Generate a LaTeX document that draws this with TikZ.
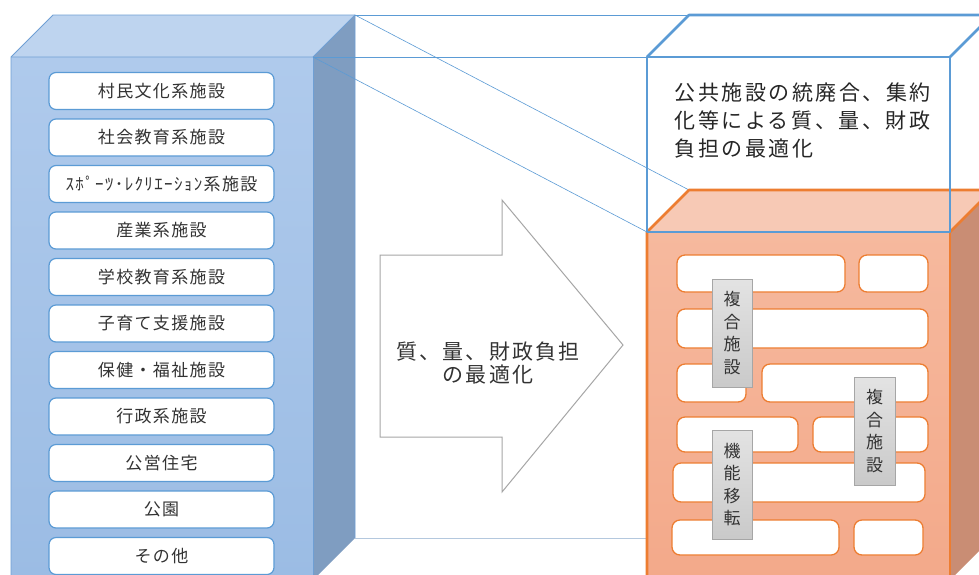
\documentclass[tikz,border=0pt]{standalone}
\usepackage{fontspec}
\setmainfont{Noto Sans CJK JP}
\newfontfamily\jpA{Noto Sans CJK JP}[LetterSpace=8]
\newfontfamily\jpB{Noto Sans CJK JP}[LetterSpace=10]
\newfontfamily\jpC{Noto Sans CJK JP}[LetterSpace=12]
\definecolor{cubeFrontT}{HTML}{AFCAEC}
\definecolor{cubeFrontB}{HTML}{9BBCE4}
\definecolor{cubeTop}{HTML}{BED4EF}
\definecolor{cubeSide}{HTML}{7F9DC1}
\definecolor{cubeEdge}{HTML}{6F9FD4}
\definecolor{linkBlue}{HTML}{5B9BD5}
\definecolor{linkPale}{HTML}{B4C8DE}
\definecolor{orFrontT}{HTML}{F6B99E}
\definecolor{orFrontB}{HTML}{F3A98A}
\definecolor{orTop}{HTML}{F7C9B5}
\definecolor{orSide}{HTML}{C98D74}
\definecolor{orEdge}{HTML}{ED7D31}
\definecolor{txt}{HTML}{333333}
\definecolor{arrowGray}{HTML}{A6A6A6}
\begin{document}
\begin{tikzpicture}[x=1pt,y=-1pt,
  lbox/.style={draw=linkBlue,line width=1.2pt,fill=white,rounded corners=7pt,
    minimum width=225pt,minimum height=37pt,inner sep=0pt,outer sep=0pt,
    text=txt,font=\jpA\fontsize{17}{20}\selectfont},
  obox/.style={draw=orEdge,line width=1.3pt,fill=white,rounded corners=8pt,
    inner sep=0pt,outer sep=0pt,anchor=north west},
  glabel/.style={draw=arrowGray,line width=0.8pt,top color=gray!22,bottom color=gray!42,
    inner sep=0pt,outer sep=0pt,anchor=north west,minimum width=40pt,minimum height=108pt,
    align=center,text=txt,font=\fontsize{17}{22.6}\selectfont},
  link/.style={draw=linkBlue,line width=0.6pt},
  wire/.style={draw=linkBlue,line width=2.6pt,line join=round},
  oedge/.style={draw=orEdge,line width=2.6pt,line join=round}
]
\useasboundingbox (0,0) rectangle (979,574);
\clip (0,0) rectangle (979,574);
\fill[white] (0,0) rectangle (979,574);

% ---------- left cube ----------
\coordinate (LFTL) at (11,57);
\coordinate (LFTR) at (313,57);
\coordinate (LBTL) at (53,15);
\coordinate (LBTR) at (355,15);
\coordinate (LBBR) at (355,538);
\coordinate (LFBR) at (313,580);
\coordinate (LFBL) at (11,580);
\shade[top color=cubeFrontT,bottom color=cubeFrontB] (LFTL) rectangle (LFBR);
\fill[cubeTop] (LFTL) -- (LBTL) -- (LBTR) -- (LFTR) -- cycle;
\fill[cubeSide] (LFTR) -- (LBTR) -- (LBBR) -- (LFBR) -- cycle;
\draw[cubeEdge,line width=0.8pt,line join=round] (LFBL) -- (LFTL) -- (LBTL) -- (LBTR) -- (LBBR);
\draw[cubeEdge,line width=0.8pt] (LFTL) -- (LFTR) -- (LBTR);
\draw[cubeEdge,line width=0.8pt] (LFTR) -- (LFBR);

% ---------- list boxes ----------
\node[lbox] (l1)  at (161.5,91)    {村民文化系施設};
\node[lbox] (l2)  at (161.5,137.5) {社会教育系施設};
\node[lbox] (l3)  at (161.5,184)   {ｽﾎﾟｰﾂ･ﾚｸﾘｴｰｼｮﾝ系施設};
\node[lbox] (l4)  at (161.5,230.5) {産業系施設};
\node[lbox] (l5)  at (161.5,277)   {学校教育系施設};
\node[lbox] (l6)  at (161.5,323.5) {子育て支援施設};
\node[lbox] (l7)  at (161.5,370)   {保健・福祉施設};
\node[lbox] (l8)  at (161.5,416.5) {行政系施設};
\node[lbox] (l9)  at (161.5,463)   {公営住宅};
\node[lbox] (l10) at (161.5,509.5) {公園};
\node[lbox] (l11) at (161.5,556)   {その他};

% ---------- right cube coordinates ----------
\coordinate (BFTL) at (647,57);
\coordinate (BFTR) at (950,57);
\coordinate (BBTL) at (689,15);
\coordinate (BBTR) at (992,15);
\coordinate (OFTL) at (647,232);
\coordinate (OFTR) at (950,232);
\coordinate (OBTL) at (689,190);
\coordinate (OBTR) at (992,190);
\coordinate (OBBR) at (992,538);
\coordinate (OFBR) at (950,580);
\coordinate (OFBL) at (647,580);
\coordinate (OBL)  at (647,538);

% ---------- links ----------
\draw[link] (LBTR) -- (BBTL);
\draw[link] (LFTR) -- (BFTL);
\draw[link] (LBTR) -- (OBTL);
\draw[link] (LFTR) -- (OFTL);
\draw[draw=linkPale,line width=1pt] (LBBR) -- (OBL);

% ---------- arrow ----------
\draw[arrowGray,fill=white,line width=1pt,line join=miter]
  (380,255) -- (502,255) -- (502,200) -- (623,345) -- (502,492) -- (502,437) -- (380,437) -- cycle;
\node[align=center,text=txt,font=\jpB\fontsize{21}{22.5}\selectfont] (arrowtext) at (488,363)
  {質、量、財政負担\\の最適化};

% ---------- orange cube ----------
\shade[top color=orFrontT,bottom color=orFrontB] (OFTL) rectangle (OFBR);
\fill[orTop] (OFTL) -- (OBTL) -- (OBTR) -- (OFTR) -- cycle;
\fill[orSide] (OFTR) -- (OBTR) -- (OBBR) -- (OFBR) -- cycle;
\draw[oedge] (OFBL) -- (OFTL) -- (OBTL) -- (OBTR);
\draw[oedge] (OFTR) -- (OBTR);
\draw[oedge] (OFTR) -- (OFBR);

\node[obox,minimum width=168pt,minimum height=37pt] (o1)  at (677,255) {};
\node[obox,minimum width=69pt, minimum height=37pt] (o2)  at (859,255) {};
\node[obox,minimum width=251pt,minimum height=39pt] (o3)  at (677,309) {};
\node[obox,minimum width=69pt, minimum height=38pt] (o4)  at (677,364) {};
\node[obox,minimum width=166pt,minimum height=38pt] (o5)  at (762,364) {};
\node[obox,minimum width=121pt,minimum height=35pt] (o6)  at (677,417) {};
\node[obox,minimum width=115pt,minimum height=35pt] (o7)  at (813,417) {};
\node[obox,minimum width=252pt,minimum height=39pt] (o8)  at (673,463) {};
\node[obox,minimum width=167pt,minimum height=35pt] (o9)  at (672,520) {};
\node[obox,minimum width=69pt, minimum height=35pt] (o10) at (854,520) {};

\node[glabel] (g1) at (712,279) {複\\合\\施\\設};
\node[glabel,minimum width=41pt] (g2) at (854,377) {複\\合\\施\\設};
\node[glabel,minimum height=109pt] (g3) at (712,430) {機\\能\\移\\転};

% ---------- blue wire cube ----------
\draw[wire] (BFTL) rectangle (OFTR);
\draw[wire] (BFTL) -- (BBTL) -- (BBTR);
\draw[wire] (BFTR) -- (BBTR);
\node[anchor=west,align=left,text=black!85,font=\jpC\fontsize{21}{28}\selectfont] (btext) at (671,121)
  {公共施設の統廃合、集約\\化等による質、量、財政\\負担の最適化};
\end{tikzpicture}
\end{document}
